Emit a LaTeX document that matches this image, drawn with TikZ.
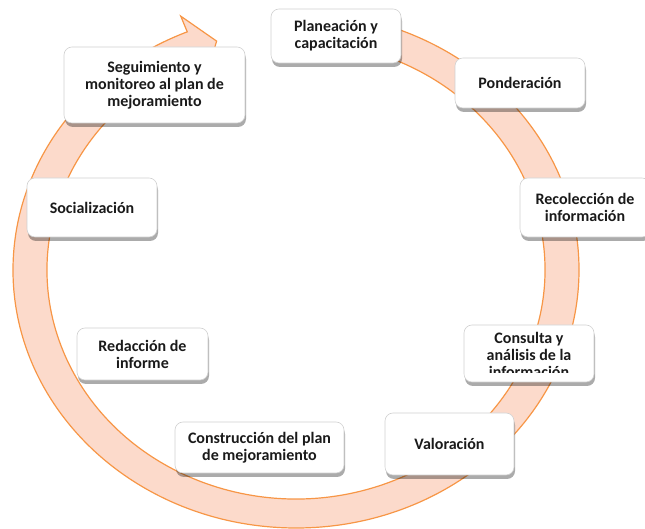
\documentclass[tikz,border=0pt]{standalone}
\usepackage{fontspec}
\setmainfont{Carlito}
\usetikzlibrary{shadows,calc}
\definecolor{ringline}{HTML}{F79646}
\definecolor{ringfill}{HTML}{FCDACB}
\definecolor{txt}{HTML}{1A1A1A}
\begin{document}
\begin{tikzpicture}[x=1pt,y=1pt,
  stagebox/.style={draw=black!18, line width=0.6pt, fill=white, rounded corners=8pt,
    drop shadow={shadow xshift=1pt, shadow yshift=-4pt, fill=black, opacity=0.33},
    align=center, font=\fontsize{16}{17}\selectfont\bfseries, text=txt, inner sep=0pt},
  stagetext/.style={align=center, font=\fontsize{16}{17}\selectfont\bfseries, text=txt, inner sep=0pt}
  ]
\useasboundingbox (0,0) rectangle (645,529);
\coordinate (c) at (296,259);
\path[fill=ringfill, draw=ringline, line width=1.2pt]
  ($(c)+(88:283 and 258)$) arc[start angle=88, end angle=-247.4, x radius=283, y radius=258]
  -- ($(c)+(112.6:300 and 275)$) -- ($(c)+(107.5:264 and 240)$) -- ($(c)+(112.6:232 and 212)$)
  -- ($(c)+(112.6:249 and 229)$) arc[start angle=-247.4, end angle=88, x radius=249, y radius=229] -- cycle;

\node[stagebox, minimum width=130pt, minimum height=54pt] (plan) at (336,493) {Planeación y\\capacitación};
\node[stagebox, minimum width=130pt, minimum height=50pt] (pond) at (520,446) {Ponderación};
\node[stagebox, minimum width=130pt, minimum height=59pt] (recol) at (585,321.5) {Recolección de\\información};
\node[stagebox, minimum width=130pt, minimum height=57pt] (consulta) at (529,175.5) {};
\begin{scope}
  \clip (464,156) rectangle (594,204);
  \node[stagetext] (consultatxt) at (529,174) {Consulta y\\análisis de la\\información};
\end{scope}
\node[stagebox, minimum width=129pt, minimum height=62pt] (valor) at (449.5,85) {Valoración};
\node[stagebox, minimum width=169pt, minimum height=51pt] (constr) at (259.5,81.5) {Construcción del plan\\de mejoramiento};
\node[stagebox, minimum width=131pt, minimum height=52pt] (redac) at (142.5,175) {Redacción de\\informe};
\node[stagebox, minimum width=130pt, minimum height=59pt] (social) at (92,321.5) {Socialización};
\node[stagebox, minimum width=181pt, minimum height=76pt] (segui) at (154.5,444) {Seguimiento y\\monitoreo al plan de\\mejoramiento};
\end{tikzpicture}
\end{document}
